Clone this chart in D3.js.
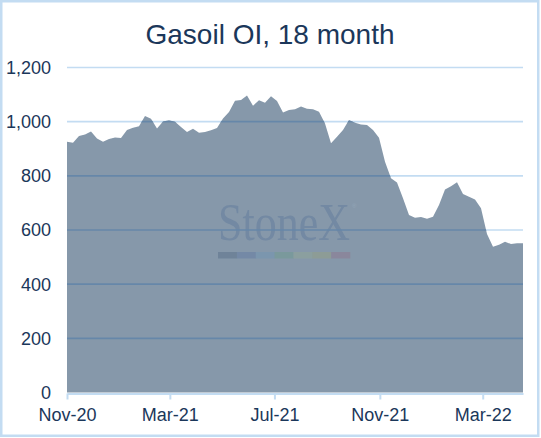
<!DOCTYPE html>
<html>
<head>
<meta charset="utf-8">
<script src="https://cdn.jsdelivr.net/npm/d3@7"></script>
<style>
  html, body { margin: 0; padding: 0; background: #fff; }
  svg { display: block; }
</style>
</head>
<body>
<svg id="chart" width="541" height="438"></svg>
<script>
// ---- Data ----
const title = "Gasoil OI, 18 month";
const startDate = "2020-11-01";   // weekly observations
const values = [
  926, 922, 947, 953, 964, 938, 926, 936, 942, 940,
  969, 978, 983, 1021, 1011, 975, 1001, 1005, 1000, 980,
  962, 974, 959, 962, 968, 977, 1012, 1036, 1077, 1080,
  1097, 1059, 1079, 1070, 1094, 1076, 1034, 1043, 1046, 1056,
  1048, 1046, 1037, 993, 920, 944, 969, 1006, 996, 990,
  988, 969, 941, 852, 791, 775, 717, 655, 645, 648,
  642, 649, 692, 750, 762, 776, 733, 723, 713, 680,
  585, 538, 546, 557, 548, 551, 551
];
const yTicks = [0, 200, 400, 600, 800, 1000, 1200];
const xTickDates = ["2020-11-01", "2021-03-01", "2021-07-01", "2021-11-01", "2022-03-01"];
const watermarkColors = ["#6f8399", "#7489a6", "#7b96ae", "#7a999c", "#8b9f9f", "#8d9c96", "#8a879c"];

(function () {
  const sans = "'Liberation Sans', Arial, sans-serif";
  const serif = "'Liberation Serif', 'Times New Roman', 'DejaVu Serif', serif";
  const parse = d3.utcParse("%Y-%m-%d");
  const start = parse(startDate);
  const data = values.map((v, i) => ({ date: d3.utcDay.offset(start, 7 * i), value: v }));

  const svg = d3.select("#chart");
  const W = 541, H = 438;
  const mLeft = 67, mRight = 523, mTop = 67.5, mBottom = 392.5;

  const x = d3.scaleUtc()
    .domain(d3.extent(data, d => d.date))
    .range([mLeft, mRight]);
  const y = d3.scaleLinear().domain([0, 1200]).range([mBottom, mTop]);

  const textColor = "#1b375a";
  const lightBlue = "#c3dcf2";

  // border
  svg.append("rect")
    .attr("x", 1.25).attr("y", 1.25)
    .attr("width", W - 4).attr("height", H - 3.5)
    .attr("fill", "#fff")
    .attr("stroke", lightBlue).attr("stroke-width", 2.5);

  // title
  svg.append("text")
    .attr("x", 270).attr("y", 44)
    .attr("text-anchor", "middle")
    .style("font-family", sans)
    .attr("font-size", 28)
    .attr("fill", textColor)
    .text(title);

  // light gridlines
  const gridVals = yTicks.filter(d => d > 0);
  svg.append("g").selectAll("line").data(gridVals).join("line")
    .attr("x1", mLeft).attr("x2", mRight)
    .attr("y1", d => y(d)).attr("y2", d => y(d))
    .attr("stroke", lightBlue).attr("stroke-width", 1.6);

  // area
  const area = d3.area()
    .x(d => x(d.date))
    .y0(y(0))
    .y1(d => y(d.value));

  const defs = svg.append("defs");
  defs.append("clipPath").attr("id", "areaClip")
    .append("path").attr("d", area(data));

  svg.append("path")
    .attr("d", area(data))
    .attr("fill", "#8698aa");

  // watermark
  const wm = svg.append("g").attr("clip-path", "url(#areaClip)");
  wm.append("text")
    .attr("transform", "translate(218,240) scale(1,1.22)")
    .style("font-family", serif)
    .attr("font-size", 44)
    .attr("fill", "#7389a3")
    .text("StoneX");
  wm.append("text")
    .attr("x", 352).attr("y", 208)
    .style("font-family", sans)
    .attr("font-size", 6)
    .attr("fill", "#94a6b8")
    .text("®");
  const segW = 132 / watermarkColors.length;
  wm.selectAll("rect.seg").data(watermarkColors).join("rect")
    .attr("class", "seg")
    .attr("x", (d, i) => 218 + i * segW)
    .attr("y", 252)
    .attr("width", segW + 0.3)
    .attr("height", 6.5)
    .attr("fill", d => d);

  // dark gridlines inside area
  svg.append("g").attr("clip-path", "url(#areaClip)")
    .selectAll("line").data(gridVals).join("line")
    .attr("x1", mLeft).attr("x2", mRight)
    .attr("y1", d => y(d)).attr("y2", d => y(d))
    .attr("stroke", "#6687a9").attr("stroke-width", 1.6);

  // y axis labels
  svg.append("g").selectAll("text").data(yTicks).join("text")
    .attr("x", 51)
    .attr("y", d => y(d))
    .attr("dy", "0.36em")
    .attr("text-anchor", "end")
    .style("font-family", sans)
    .attr("font-size", 18)
    .attr("fill", textColor)
    .text(d => d3.format(",")(d));

  // x axis
  const xAxis = d3.axisBottom(x)
    .tickValues(xTickDates.map(parse))
    .tickFormat(d3.utcFormat("%b-%y"))
    .tickSizeInner(6)
    .tickSizeOuter(0)
    .tickPadding(9);
  const gx = svg.append("g")
    .attr("transform", `translate(0,${mBottom + 1})`)
    .call(xAxis);
  gx.select(".domain").attr("stroke", lightBlue).attr("stroke-width", 2);
  gx.selectAll(".tick line").attr("stroke", lightBlue).attr("stroke-width", 2);
  gx.selectAll(".tick text")
    .attr("font-size", 18)
    .style("font-family", sans)
    .attr("fill", textColor);
})();
</script>
</body>
</html>
